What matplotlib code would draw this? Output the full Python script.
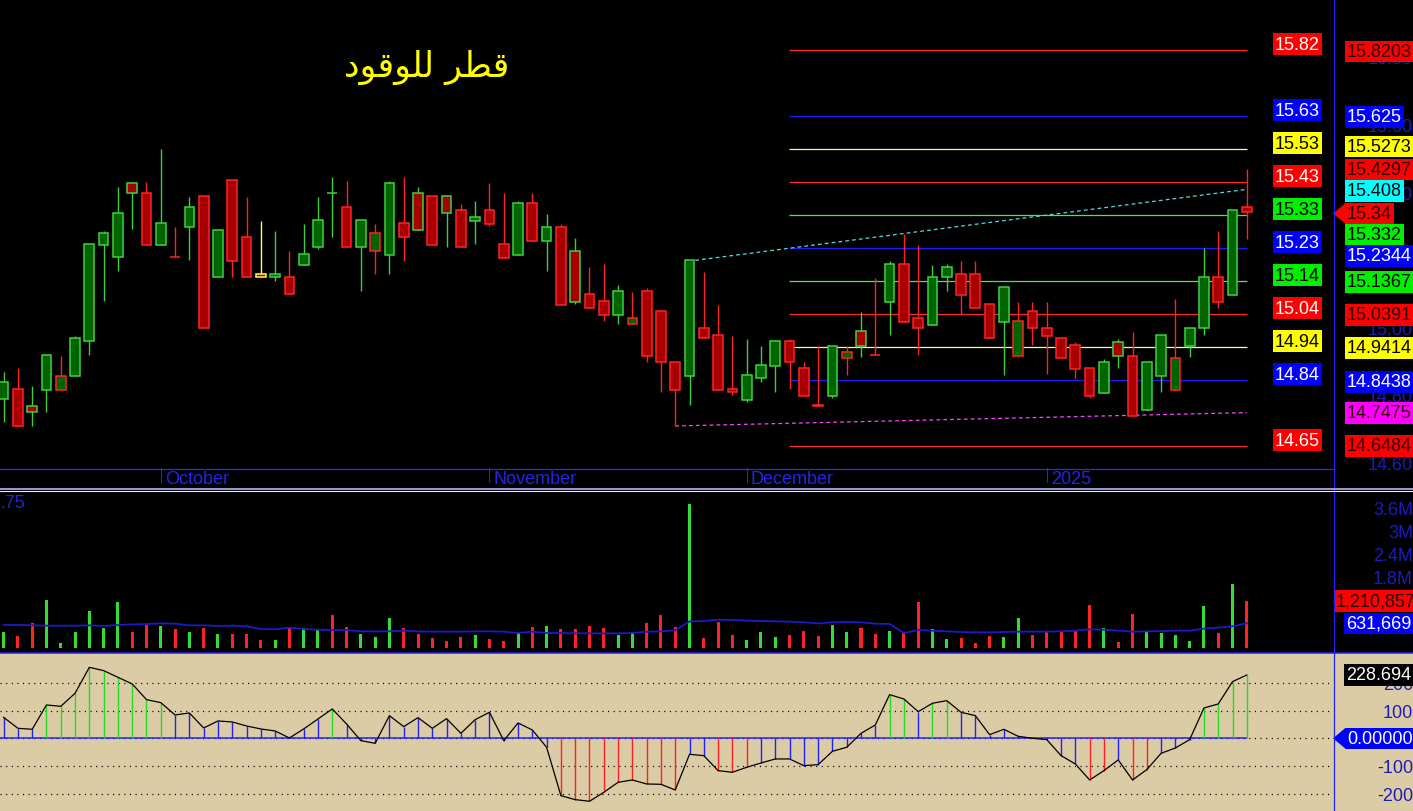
import matplotlib
matplotlib.use("Agg")
import matplotlib.pyplot as plt
from matplotlib.patches import Polygon
from matplotlib.transforms import blended_transform_factory
import numpy as np

# ---------------------------------------------------------------- data
TITLE = "قطر للوقود"

OPEN = [14.788, 14.817, 14.768, 14.815, 14.815, 14.857, 14.958, 15.244, 15.207, 15.426,
        15.396, 15.244, 15.208, 15.296, 15.388, 15.148, 15.436, 15.266, 15.158, 15.148,
        15.148, 15.185, 15.237, 15.398, 15.355, 15.237, 15.227, 15.215, 15.308, 15.396,
        15.388, 15.388, 15.347, 15.315, 15.347, 15.246, 15.215, 15.367, 15.256, 15.296,
        15.227, 15.098, 15.077, 15.037, 15.010, 15.106, 15.047, 14.896, 14.857, 14.998,
        14.977, 14.817, 14.786, 14.849, 14.886, 14.958, 14.879, 14.770, 14.798, 14.908,
        14.988, 14.919, 15.076, 15.187, 15.027, 15.008, 15.148, 15.158, 15.158, 15.069,
        15.017, 14.916, 15.047, 14.997, 14.967, 14.948, 14.879, 14.806, 14.957, 14.916,
        14.756, 14.857, 14.815, 14.945, 14.997, 15.148, 15.096, 15.355]
HIGH = [14.867, 14.879, 14.827, 14.918, 14.916, 14.975, 15.246, 15.286, 15.416, 15.426,
        15.429, 15.527, 15.296, 15.385, 15.388, 15.288, 15.436, 15.385, 15.315, 15.284,
        15.227, 15.306, 15.385, 15.446, 15.434, 15.318, 15.306, 15.434, 15.446, 15.414,
        15.388, 15.388, 15.365, 15.374, 15.426, 15.396, 15.374, 15.396, 15.335, 15.306,
        15.264, 15.177, 15.187, 15.126, 15.105, 15.116, 15.047, 14.896, 15.198, 15.164,
        15.067, 14.975, 14.965, 14.945, 14.958, 14.965, 14.896, 14.945, 14.945, 14.945,
        15.044, 15.146, 15.197, 15.276, 15.244, 15.185, 15.187, 15.197, 15.197, 15.069,
        15.118, 15.074, 15.074, 15.074, 14.967, 14.956, 14.879, 14.906, 14.965, 14.987,
        14.896, 14.977, 15.084, 14.997, 15.235, 15.286, 15.347, 15.467]
LOW = [14.719, 14.707, 14.709, 14.748, 14.815, 14.857, 14.918, 15.077, 15.167, 15.291,
       15.244, 15.244, 15.207, 15.200, 14.997, 15.148, 15.148, 15.148, 15.148, 15.138,
       15.098, 15.185, 15.232, 15.268, 15.237, 15.108, 15.158, 15.158, 15.197, 15.288,
       15.244, 15.238, 15.237, 15.246, 15.299, 15.205, 15.215, 15.256, 15.167, 15.067,
       15.069, 15.056, 15.020, 15.010, 15.010, 14.898, 14.808, 14.708, 14.769, 14.967,
       14.815, 14.800, 14.780, 14.839, 14.808, 14.817, 14.798, 14.768, 14.790, 14.860,
       14.911, 14.918, 14.977, 15.017, 14.918, 15.008, 15.108, 15.039, 15.056, 14.967,
       14.860, 14.916, 14.948, 14.861, 14.908, 14.849, 14.790, 14.806, 14.880, 14.738,
       14.756, 14.808, 14.815, 14.911, 14.978, 15.056, 15.096, 15.262]
CLOSE = [14.837, 14.707, 14.748, 14.918, 14.857, 14.967, 15.246, 15.278, 15.337, 15.396,
         15.244, 15.308, 15.207, 15.355, 14.997, 15.288, 15.197, 15.148, 15.148, 15.158,
         15.098, 15.217, 15.318, 15.397, 15.237, 15.318, 15.278, 15.426, 15.266, 15.288,
         15.244, 15.337, 15.237, 15.325, 15.306, 15.205, 15.367, 15.256, 15.296, 15.067,
         15.076, 15.056, 15.037, 15.106, 15.027, 14.916, 14.896, 14.815, 15.198, 14.967,
         14.815, 14.808, 14.859, 14.888, 14.958, 14.896, 14.798, 14.768, 14.945, 14.928,
         14.945, 14.918, 15.187, 15.017, 14.997, 15.148, 15.177, 15.096, 15.056, 14.967,
         15.118, 15.018, 14.997, 14.975, 14.908, 14.877, 14.798, 14.896, 14.916, 14.738,
         14.896, 14.977, 14.908, 14.997, 15.148, 15.076, 15.347, 15.340]

VOLUME_M = [0.41, 0.31, 0.64, 1.24, 0.12, 0.41, 0.95, 0.52, 1.19, 0.41,
            0.60, 0.56, 0.47, 0.41, 0.52, 0.36, 0.36, 0.36, 0.20, 0.20,
            0.53, 0.50, 0.46, 0.86, 0.53, 0.36, 0.28, 0.77, 0.50, 0.36,
            0.26, 0.16, 0.28, 0.33, 0.21, 0.18, 0.41, 0.54, 0.57, 0.47,
            0.47, 0.57, 0.52, 0.33, 0.41, 0.63, 0.86, 0.54, 3.74, 0.25,
            0.67, 0.33, 0.20, 0.40, 0.28, 0.33, 0.44, 0.31, 0.59, 0.40,
            0.51, 0.36, 0.43, 0.38, 1.20, 0.49, 0.22, 0.26, 0.13, 0.31,
            0.28, 0.78, 0.33, 0.43, 0.43, 0.46, 1.12, 0.51, 0.15, 0.88,
            0.43, 0.38, 0.33, 0.17, 1.09, 0.38, 1.66, 1.210857]
VOL_MA_M = [0.587, 0.587, 0.578, 0.569, 0.569, 0.569, 0.578, 0.561, 0.587, 0.604,
            0.613, 0.630, 0.621, 0.578, 0.578, 0.561, 0.569, 0.552, 0.482, 0.474,
            0.517, 0.482, 0.465, 0.456, 0.456, 0.421, 0.421, 0.421, 0.439, 0.421,
            0.413, 0.413, 0.413, 0.421, 0.421, 0.413, 0.378, 0.413, 0.378, 0.378,
            0.369, 0.369, 0.369, 0.369, 0.378, 0.413, 0.421, 0.448, 0.682, 0.691,
            0.726, 0.717, 0.700, 0.691, 0.682, 0.674, 0.656, 0.630, 0.656, 0.665,
            0.656, 0.621, 0.613, 0.378, 0.456, 0.439, 0.421, 0.404, 0.395, 0.395,
            0.404, 0.413, 0.413, 0.413, 0.421, 0.439, 0.474, 0.465, 0.439, 0.413,
            0.421, 0.430, 0.439, 0.439, 0.491, 0.517, 0.552, 0.631669]
CCI = [75.8, 36.1, 32.5, 120.3, 115.5, 162.5, 256.3, 244.3, 220.2, 196.2,
       139.6, 128.8, 84.2, 91.5, 37.3, 62.6, 59.0, 44.5, 33.7, 26.5,
       1.2, 33.7, 69.8, 105.9, 51.7, -8.4, -18.0, 81.8, 42.1, 74.6,
       36.1, 71.0, 18.0, 67.4, 93.9, -8.4, 55.4, 30.1, -32.5, -207.0,
       -221.4, -227.4, -195.0, -158.9, -150.4, -164.9, -166.1, -186.5, -57.8, -62.6,
       -116.7, -122.7, -104.7, -89.1, -74.6, -74.6, -98.7, -95.1, -46.9, -32.5,
       18.0, 48.1, 157.6, 142.0, 96.3, 126.4, 136.0, 93.9, 81.8, 13.2,
       32.5, 7.2, 0.0, -4.8, -62.6, -92.7, -150.4, -116.7, -78.2, -150.4,
       -113.1, -54.2, -34.9, -4.8, 109.5, 124.0, 204.6, 228.694]

MONTH_IDX = [11, 34, 52, 73]
MONTH_LABELS = ["October", "November", "December", "2025"]

LEVELS = [15.8203, 15.625, 15.5273, 15.4297, 15.332, 15.2344, 15.1367,
          15.0391, 14.9414, 14.8438, 14.6484]
LEVEL_KIND = ["red", "blue", "yellow", "red", "green", "blue", "green",
              "red", "yellow", "blue", "red"]
LEVEL_START_IDX = 55
UPPER_TREND = [(48, 15.198), (87, 15.408)]
LOWER_TREND = [(47, 14.708), (87, 14.7475)]

PRICE_TICKS = [14.6, 14.8, 15.0, 15.2, 15.4, 15.6, 15.8]
VOL_TICKS_M = [1.8, 2.4, 3.0, 3.6]
CCI_TICKS = [-200, -100, 0, 100, 200]

# ---------------------------------------------------------------- layout / style
FIG_W, FIG_H = 1413, 812
X0_PX, STEP_PX = 3.6, 14.29
AXIS_PX = 1333
def px2x(px):
    return (px - X0_PX) / STEP_PX

PRICE_TOP, PRICE_PER_PX, PRICE_BOT_PX = 15.9712, 0.0029586, 469
VOL_TOP_PX, VOL_BOT_PX, VOL_BASE_PX, VOL_PX_PER_M = 494, 652, 648.5, 38.33
CCI_TOP_PX, CCI_ZERO_PX, CCI_PX_PER = 654, 739.3, 0.277

def p_at(py):
    return PRICE_TOP - py * PRICE_PER_PX
def v_at(py):
    return (VOL_BASE_PX - py) / VOL_PX_PER_M
def c_at(py):
    return (CCI_ZERO_PX - py) / CCI_PX_PER

BOX_COL = {"red": "#ff0000", "blue": "#0000ff", "yellow": "#ffff00", "green": "#00ee00",
           "cyan": "#00ffff", "magenta": "#ff00ff", "black": "#000000"}
LINE_COL = {"red": "#ff2a2a", "blue": "#1c1cff", "yellow": "#ffff88", "green": "#44ee44"}
LEFT_TXT = {"red": "white", "blue": "white", "yellow": "black", "green": "black"}
RIGHT_TXT = {"red": "#2a0000", "blue": "white", "yellow": "black", "green": "black",
             "cyan": "black", "magenta": "#2a0000", "black": "white"}
AXIS_BLUE = "#1c1cb8"
MONTH_BLUE = "#2424e8"
GREEN_FILL, GREEN_EDGE = "#006400", "#3fd03f"
RED_FILL, RED_EDGE = "#a80000", "#ff2222"
YELLOW_EDGE = "#ffff44"
FONT = "Liberation Sans"
FS = 13

plt.rcParams["font.family"] = [FONT, "DejaVu Sans"]

fig = plt.figure(figsize=(FIG_W / 100, FIG_H / 100), dpi=100, facecolor="black")

def rect(top, bottom):
    return [0, 1 - bottom / FIG_H, 1, (bottom - top) / FIG_H]

XL = (px2x(0), px2x(FIG_W))
SEP_X = px2x(AXIS_PX)

ax_p = fig.add_axes(rect(0, PRICE_BOT_PX))
ax_v = fig.add_axes(rect(VOL_TOP_PX, VOL_BOT_PX))
ax_c = fig.add_axes(rect(CCI_TOP_PX, FIG_H))
for a, fc in ((ax_p, "black"), (ax_v, "black"), (ax_c, "#dccca6")):
    a.set_facecolor(fc)
    a.set_xlim(*XL)
    a.set_xticks([])
    a.set_yticks([])
    for s in a.spines.values():
        s.set_visible(False)
ax_p.set_ylim(p_at(PRICE_BOT_PX), PRICE_TOP)
ax_v.set_ylim(v_at(VOL_BOT_PX), v_at(VOL_TOP_PX))
ax_c.set_ylim(c_at(FIG_H), c_at(CCI_TOP_PX))

x = np.arange(len(CLOSE))
O, Hh, L, C = map(np.array, (OPEN, HIGH, LOW, CLOSE))

def r2(v):
    return f"{v + 1e-7:.2f}"

# ---------------------------------------------------------------- price pane
fills, edges = [], []
for i in range(len(C)):
    fills.append(GREEN_FILL if C[i] > O[i] else RED_FILL)
    ref = O[i] if i == 0 else C[i - 1]
    if i > 0 and abs(C[i] - ref) < 1e-6:
        edges.append(YELLOW_EDGE)
    elif C[i] > ref:
        edges.append(GREEN_EDGE)
    else:
        edges.append(RED_EDGE)

for lv, kind in zip(LEVELS, LEVEL_KIND):
    ax_p.hlines(lv, LEVEL_START_IDX - 0.05, x[-1], colors=LINE_COL[kind], lw=0.9, zorder=2)

(ux0, uy0), (ux1, uy1) = UPPER_TREND
ax_p.plot([ux0 + 0.4, ux1], [uy0, uy1], color="#4ee0e0", lw=0.9,
          ls=(0, (3, 2.5)), zorder=2)
(lx0, ly0), (lx1, ly1) = LOWER_TREND
ax_p.plot([lx0, lx1], [ly0, ly1], color="#ff44ff", lw=0.9,
          ls=(0, (3, 2.5)), zorder=2)

ax_p.vlines(x, L, Hh, colors=edges, lw=1.0, zorder=3)
ax_p.bar(x, np.maximum(np.abs(C - O), 1e-4), bottom=np.minimum(O, C), width=0.68,
         color=fills, edgecolor=edges, linewidth=1.1, zorder=4)

# right-hand price ticks (mostly hidden behind label boxes)
for t in PRICE_TICKS:
    ax_p.text(px2x(1413), t - 2 * PRICE_PER_PX, f"{t:.2f}", color=AXIS_BLUE,
              fontsize=FS, ha="right", va="center", zorder=5, clip_on=False)

# left level labels
for lv, kind in zip(LEVELS, LEVEL_KIND):
    ax_p.text(px2x(1297.5), lv + 6 * PRICE_PER_PX, r2(lv), color=LEFT_TXT[kind],
              fontsize=FS, ha="center", va="center", zorder=6,
              bbox=dict(boxstyle="square,pad=0.12", fc=BOX_COL[kind], ec="none"))

# right axis value labels
def fmt4(v):
    return f"{v:.4f}".rstrip("0").rstrip(".")

RIGHT_LABELS = [
    (LEVELS[0], "red", 52.5, False),
    (LEVELS[1], "blue", 118, False),
    (LEVELS[2], "yellow", 147.5, False),
    (LEVELS[3], "red", 170.5, False),
    (UPPER_TREND[1][1], "cyan", 192, False),
    (CLOSE[-1], "red", 214.5, True),
    (LEVELS[4], "green", 235.5, False),
    (LEVELS[5], "blue", 257, False),
    (LEVELS[6], "green", 283, False),
    (LEVELS[7], "red", 316, False),
    (LEVELS[8], "yellow", 349, False),
    (LEVELS[9], "blue", 383, False),
    (LOWER_TREND[1][1], "magenta", 414, False),
    (LEVELS[10], "red", 447, False),
]
for val, kind, ypx, arrow in RIGHT_LABELS:
    ax_p.text(px2x(1347), p_at(ypx), fmt4(val), color=RIGHT_TXT[kind], fontsize=FS,
              ha="left", va="center", zorder=7, clip_on=False,
              bbox=dict(boxstyle="square,pad=0.12", fc=BOX_COL[kind], ec="none"))
    if arrow:
        ax_p.add_patch(Polygon([(px2x(1333), p_at(ypx)), (px2x(1345), p_at(ypx - 10)),
                                (px2x(1345), p_at(ypx + 10))], closed=True,
                               fc=BOX_COL[kind], ec="none", zorder=7, clip_on=False))

# month axis
bt = blended_transform_factory(ax_p.transData, ax_p.transAxes)
for idx, lab in zip(MONTH_IDX, MONTH_LABELS):
    ax_p.plot([idx, idx], [0, -14 / PRICE_BOT_PX], transform=bt, color=MONTH_BLUE,
              lw=0.8, clip_on=False, zorder=5)
    ax_p.text(idx + 4 / STEP_PX, -11 / PRICE_BOT_PX, lab, transform=bt, color=MONTH_BLUE,
              fontsize=FS, ha="left", va="center", clip_on=False)

# ---------------------------------------------------------------- volume pane
vcols = ["#33dd33" if c > o else "#ff2222" for o, c in zip(OPEN, CLOSE)]
ax_v.bar(x, VOLUME_M, width=0.21, color=vcols, zorder=3)
ax_v.plot(x, VOL_MA_M, color="#1a1acc", lw=1.3, zorder=4)
for t in VOL_TICKS_M:
    ax_v.text(px2x(1413), t, f"{t:g}M", color=AXIS_BLUE, fontsize=FS,
              ha="right", va="center", clip_on=False, zorder=5)
ax_v.text(px2x(0), v_at(504), ".75", color="#2424d0", fontsize=FS, ha="left",
          va="center", clip_on=False)
last_v = VOLUME_M[-1]
ax_v.add_patch(Polygon([(px2x(1333), last_v), (px2x(1345), last_v + 10 / VOL_PX_PER_M),
                        (px2x(1345), last_v - 10 / VOL_PX_PER_M)], closed=True,
                       fc="#ff0000", ec="none", zorder=6, clip_on=False))
ax_v.text(px2x(1336), last_v, f"{last_v * 1e6:,.0f}", color="#2a0000", fontsize=FS,
          ha="left", va="center", zorder=7, clip_on=False,
          bbox=dict(boxstyle="square,pad=0.12", fc="#ff0000", ec="none"))
ax_v.text(px2x(1346), VOL_MA_M[-1], f"{VOL_MA_M[-1] * 1e6:,.0f}", color="white",
          fontsize=FS, ha="left", va="center", zorder=7, clip_on=False,
          bbox=dict(boxstyle="square,pad=0.12", fc="#0000ff", ec="none"))

# ---------------------------------------------------------------- CCI pane
for t in CCI_TICKS:
    ax_c.hlines(t, XL[0], SEP_X, colors="black", lw=0.9, ls=(0, (0.9, 3.6)), zorder=1)
ax_c.hlines(0, XL[0], x[-1], colors="#2020ff", lw=1.1, zorder=2)
ccol = ["#22dd22" if v > 100 else ("#ff2020" if v < -100 else "#2020ff") for v in CCI]
ax_c.vlines(x, 0, CCI, colors=ccol, lw=1.0, zorder=3)
ax_c.plot(x, CCI, color="black", lw=0.9, zorder=4)
for t in CCI_TICKS:
    if t == 0:
        continue
    ax_c.text(px2x(1413), t - 1.5 / CCI_PX_PER, f"{t:g}", color=AXIS_BLUE, fontsize=FS,
              ha="right", va="center", clip_on=False, zorder=5)
ax_c.text(px2x(1346), c_at(676), f"{CCI[-1]:.3f}", color="white", fontsize=FS,
          ha="left", va="center", zorder=7, clip_on=False,
          bbox=dict(boxstyle="square,pad=0.12", fc="black", ec="none"))
ax_c.add_patch(Polygon([(px2x(1333), 0), (px2x(1345), 10 / CCI_PX_PER),
                        (px2x(1345), -10 / CCI_PX_PER)], closed=True,
                       fc="#0000ff", ec="none", zorder=6, clip_on=False))
ax_c.text(px2x(1347), 0, f"{0:.5f}", color="white", fontsize=FS, ha="left", va="center",
          zorder=7, clip_on=False,
          bbox=dict(boxstyle="square,pad=0.12", fc="#0000ff", ec="none"))

# ---------------------------------------------------------------- frame overlay
ov = fig.add_axes([0, 0, 1, 1], zorder=10)
ov.set_xlim(0, FIG_W)
ov.set_ylim(FIG_H, 0)
ov.axis("off")
ov.patch.set_alpha(0)
ov.plot([AXIS_PX + 0.5] * 2, [0, FIG_H], color="#2020ff", lw=0.9)
ov.plot([0, AXIS_PX], [PRICE_BOT_PX + 0.5] * 2, color="#2a2aff", lw=0.9)
ov.plot([0, FIG_W], [489.8, 489.8], color="#b4b4ff", lw=1.2)
ov.plot([0, FIG_W], [492.3, 492.3], color="#e8e8ff", lw=0.8)
ov.plot([0, FIG_W], [653.5, 653.5], color="#2020ff", lw=1.1)

AR_FORMS = {
    "\u0642": ("\uFED5", "\uFED6", "\uFED7", "\uFED8"),
    "\u0637": ("\uFEC1", "\uFEC2", "\uFEC3", "\uFEC4"),
    "\u0631": ("\uFEAD", "\uFEAE", None, None),
    "\u0644": ("\uFEDD", "\uFEDE", "\uFEDF", "\uFEE0"),
    "\u0648": ("\uFEED", "\uFEEE", None, None),
    "\u062F": ("\uFEA9", "\uFEAA", None, None),
}
def shape_arabic(s):
    out = []
    for k, ch in enumerate(s):
        f = AR_FORMS.get(ch)
        if f is None:
            out.append(ch)
            continue
        prev = s[k - 1] if k > 0 else ""
        nxt = s[k + 1] if k + 1 < len(s) else ""
        jp = prev in AR_FORMS and AR_FORMS[prev][2] is not None
        jn = f[2] is not None and nxt in AR_FORMS
        out.append(f[3] if (jp and jn) else f[1] if jp else f[2] if jn else f[0])
    return "".join(reversed(out))

ov.text(427, 67, shape_arabic(TITLE), color="#ffff00", fontsize=25,
        family=["DejaVu Sans"], ha="center", va="center")

fig.savefig("out.png", dpi=100, facecolor="black")
